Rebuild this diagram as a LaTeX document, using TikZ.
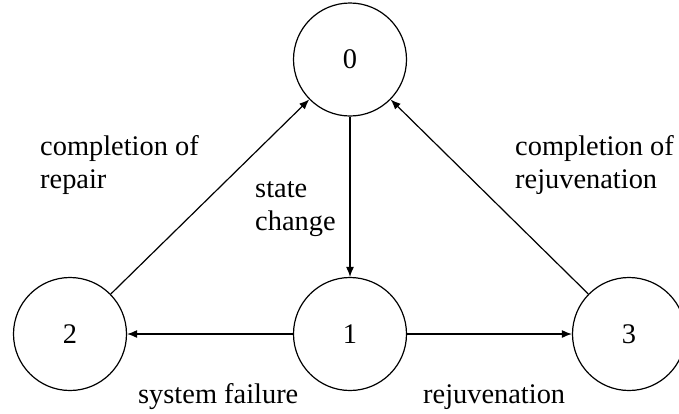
\documentclass[tikz,border=0pt]{standalone}
\usepackage{fontspec}
\setmainfont{Liberation Serif}
\usetikzlibrary{arrows.meta}
\tikzset{
  state/.style={circle, draw, line width=1.2pt, minimum size=113pt, inner sep=0pt,
                font=\fontsize{28.4}{33}\selectfont},
  edge/.style={line width=1.2pt, -{Latex[length=10pt,width=8pt]}},
  % multi-line labels are placed by the baseline of their last line
  lbl/.style={anchor=base west, align=left, inner sep=0pt,
              font=\fontsize{28.4}{33}\selectfont}
}
\begin{document}
\begin{tikzpicture}[x=1pt, y=-1pt]
  \useasboundingbox (0,0) rectangle (679,413);
  \clip (0,0) rectangle (679,413);
  % states of the Markov model
  \node[state] (s0) at (350,59.5) {0};
  \node[state] (s1) at (350,334) {1};
  \node[state] (s2) at (70,334)   {2};
  \node[state] (s3) at (629,334)  {3};
  % transitions
  \draw[edge] (s0) -- (s1);
  \draw[edge] (s1) -- (s2);
  \draw[edge] (s1) -- (s3);
  \draw[edge] (s2) -- (s0);
  \draw[edge] (s3) -- (s0);
  % transition labels
  \node[lbl] (lrep) at (40,188)  {completion of\\repair};
  \node[lbl] (lsc)  at (255,230) {state\\change};
  \node[lbl] (lrej) at (515,188) {completion of\\rejuvenation};
  \node[lbl] (lsf)  at (138,403) {system failure};
  \node[lbl] (lrj)  at (423,403) {rejuvenation};
\end{tikzpicture}
\end{document}
